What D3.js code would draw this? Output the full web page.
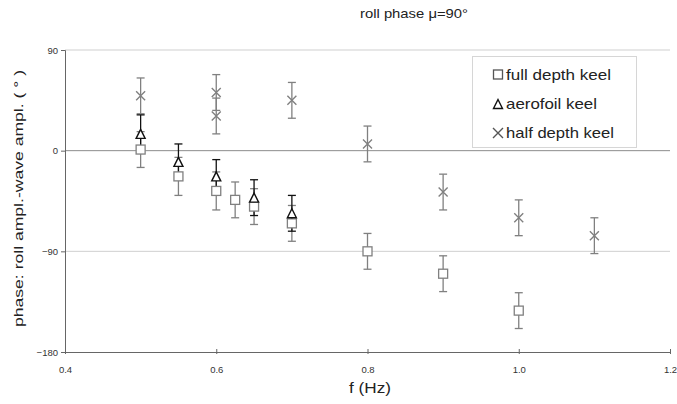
<!DOCTYPE html>
<html><head><meta charset="utf-8">
<script src="https://cdn.jsdelivr.net/npm/d3@7"></script>
<style>body{margin:0;background:#fff}svg{display:block}text{font-family:"Liberation Sans",Arial,sans-serif}</style>
</head><body><svg id="c" width="677" height="404"></svg>
<script>
const xTicks = [0.4, 0.6, 0.8, 1.0, 1.2];
const yTicks = [90, 0, -90, -180];
const fullF = [0.5, 0.55, 0.6, 0.625, 0.65, 0.7, 0.8, 0.9, 1.0];
const fullV = [1, -23, -36, -44, -50, -65, -90, -110, -143];
const fullE = [16, 17, 17, 16, 16, 16, 16, 16, 16];
const aeroF = [0.5, 0.55, 0.6, 0.65, 0.7];
const aeroV = [15, -10, -23, -42, -56];
const aeroE = [17, 16, 15, 16, 16];
const halfF = [0.5, 0.6, 0.6, 0.7, 0.8, 0.9, 1.0, 1.1];
const halfV = [49, 52, 31, 45, 6, -37, -60, -76];
const halfE = [16, 16, 16, 16, 16, 16, 16, 16];
const seriesNames = ["full depth keel", "aerofoil keel", "half depth keel"];

const svg = d3.select("#c");
const x = d3.scaleLinear().domain([0.4, 1.2]).range([65, 670]);
const y = d3.scaleLinear().domain([-180, 90]).range([352, 50]);
const gray = "#808080";

// gridlines
svg.append("g").selectAll("line").data(yTicks.filter(d => d !== -180)).join("line")
  .attr("x1", x(0.4)).attr("x2", x(1.2))
  .attr("y1", d => y(d)).attr("y2", d => y(d))
  .attr("stroke", d => d === 0 ? "#8c8c8c" : "#cfcfcf").attr("stroke-width", 1);

// axes
const yAxis = d3.axisLeft(y).tickValues(yTicks).tickSize(4).tickFormat(d3.format("d"));
const gy = svg.append("g").attr("transform", `translate(${x(0.4)},0)`).call(yAxis);
gy.select(".domain").attr("stroke", "#666");
gy.selectAll(".tick line").attr("stroke", "#666");
gy.selectAll(".tick text").attr("font-size", 9.5).attr("fill", "#333").attr("x", -7);

const xAxis = d3.axisBottom(x).tickValues(xTicks).tickSize(0).tickFormat(d3.format(".1f"));
const gx = svg.append("g").attr("transform", `translate(0,${y(-180)})`).call(xAxis);
gx.select(".domain").attr("stroke", "#666");
gx.selectAll(".tick text").attr("font-size", 9.5).attr("fill", "#333").attr("y", 14).attr("dy", "0.71em");
gx.selectAll(".tick").append("line").attr("y1", -3).attr("y2", 2).attr("stroke", "#666");

// titles
svg.append("text").attr("x", 360).attr("y", 18)
  .attr("font-size", 13).attr("fill", "#222")
  .attr("textLength", 108).attr("lengthAdjust", "spacingAndGlyphs").text("roll phase μ=90°");
svg.append("text").attr("x", 349).attr("y", 393)
  .attr("font-size", 14).attr("fill", "#222")
  .attr("textLength", 42).attr("lengthAdjust", "spacingAndGlyphs").text("f (Hz)");
svg.append("text").attr("transform", "translate(23,327) rotate(-90)")
  .attr("font-size", 13).attr("fill", "#222")
  .attr("textLength", 257).attr("lengthAdjust", "spacingAndGlyphs").text("phase: roll ampl.-wave ampl. ( ° )");

function errBars(F, V, E, color) {
  const g = svg.append("g").attr("stroke", color).attr("stroke-width", 1.3).attr("fill", "none");
  F.forEach((f, i) => {
    const cx = x(f), t = y(V[i] + E[i]), b = y(V[i] - E[i]);
    g.append("line").attr("x1", cx).attr("x2", cx).attr("y1", t).attr("y2", b);
    g.append("line").attr("x1", cx - 4).attr("x2", cx + 4).attr("y1", t).attr("y2", t);
    g.append("line").attr("x1", cx - 4).attr("x2", cx + 4).attr("y1", b).attr("y2", b);
  });
}
function square(g, cx, cy, s, color) {
  g.append("rect").attr("x", cx - s / 2).attr("y", cy - s / 2).attr("width", s).attr("height", s)
    .attr("fill", "#fff").attr("stroke", color).attr("stroke-width", 1.3);
}
function tri(g, cx, cy, s, color) {
  g.append("path").attr("d", `M${cx},${cy - s / 2}L${cx + s / 2},${cy + s / 2}L${cx - s / 2},${cy + s / 2}Z`)
    .attr("fill", "#fff").attr("stroke", color).attr("stroke-width", 1.4);
}
function cross(g, cx, cy, s, color) {
  g.append("path").attr("d", `M${cx - s / 2},${cy - s / 2}L${cx + s / 2},${cy + s / 2}M${cx - s / 2},${cy + s / 2}L${cx + s / 2},${cy - s / 2}`)
    .attr("stroke", color).attr("stroke-width", 1.4).attr("fill", "none");
}

errBars(halfF, halfV, halfE, gray);
errBars(fullF, fullV, fullE, gray);
errBars(aeroF, aeroV, aeroE, "#111");
const gm = svg.append("g");
halfF.forEach((f, i) => cross(gm, x(f), y(halfV[i]), 9, gray));
fullF.forEach((f, i) => square(gm, x(f), y(fullV[i]), 9, gray));
aeroF.forEach((f, i) => tri(gm, x(f), y(aeroV[i]), 9, "#111"));

// legend
const lg = svg.append("g");
lg.append("rect").attr("x", 472.5).attr("y", 56.5).attr("width", 164).attr("height", 91)
  .attr("fill", "#fff").attr("stroke", "#d6d6d6");
const ly = [74.5, 104, 133];
square(lg, 498, ly[0], 9, "#555");
tri(lg, 498, ly[1], 9, "#111");
cross(lg, 498, ly[2], 10, "#555");
const lens = [105, 91, 108];
lg.selectAll("text.l").data(seriesNames).join("text").attr("class", "l")
  .attr("x", 506).attr("y", (d, i) => ly[i] + 5).attr("font-size", 14.5).attr("fill", "#222")
  .attr("textLength", (d, i) => lens[i]).attr("lengthAdjust", "spacingAndGlyphs").text(d => d);
</script></body></html>
